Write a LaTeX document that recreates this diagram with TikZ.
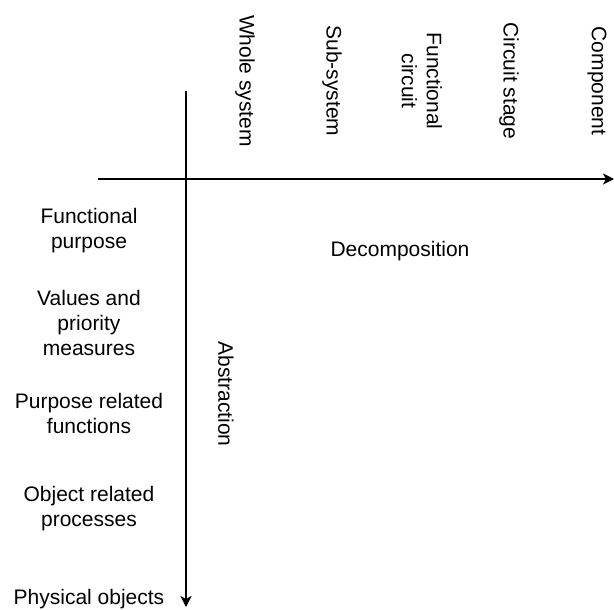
\documentclass[tikz,border=0pt]{standalone}
\usepackage{fontspec}
\setmainfont{Liberation Sans}
\usetikzlibrary{arrows.meta}
\begin{document}
\begin{tikzpicture}[x=1pt,y=-1pt,
  lbl/.style={font=\fontsize{21}{25}\selectfont, align=center, inner sep=0pt},
  toplbl/.style={lbl, rotate=-90},
  axis/.style={line width=1.5pt, -{Stealth[length=11pt,width=11pt,inset=3pt]}}]
\useasboundingbox (0,0) rectangle (614,610);
\coordinate (hs) at (98,179);
\coordinate (he) at (614,179);
\coordinate (vs) at (186,91);
\coordinate (ve) at (186,607);
\draw[axis] (hs) -- (he);
\draw[axis] (vs) -- (ve);
\node[toplbl] (ws) at (245,81) {Whole system};
\node[toplbl] (ss) at (332,81) {Sub-system};
\node[toplbl] (fc) at (422,81) {Functional\\circuit};
\node[toplbl] (cs) at (509,81) {Circuit stage};
\node[toplbl] (co) at (597,81) {Component};
\node[lbl] (dec) at (400,251) {Decomposition};
\node[toplbl] (abs) at (226,394) {Abstraction};
\node[lbl] (fp) at (89,231) {Functional\\purpose};
\node[lbl] (vp) at (89,323) {Values and\\priority\\measures};
\node[lbl] (pr) at (89,413) {Purpose related\\functions};
\node[lbl] (or) at (89,509) {Object related\\processes};
\node[lbl] (po) at (89,599) {Physical objects};
\end{tikzpicture}
\end{document}
